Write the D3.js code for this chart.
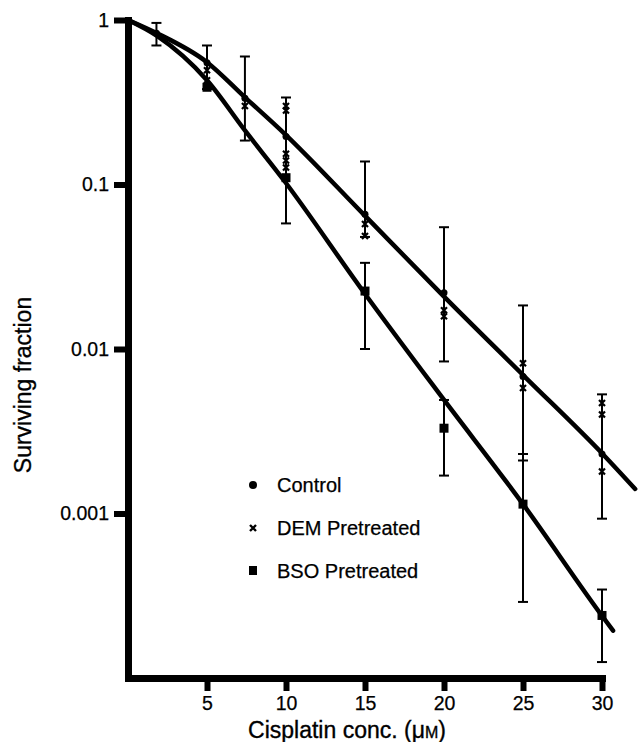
<!DOCTYPE html>
<html>
<head>
<meta charset="utf-8">
<script src="https://cdn.jsdelivr.net/npm/d3@7"></script>
<style>
body { margin: 0; background: #fff; }
text { font-family: "Liberation Sans", Arial, Helvetica, sans-serif; fill: #000; }
</style>
</head>
<body>
<div id="chart-area"></div>
<script>
// tick values / labels
var xTicks = [5, 10, 15, 20, 25, 30];
var yTicks = [1, 0.1, 0.01, 0.001];
var yTickLabels = ["1", "0.1", "0.01", "0.001"];

// Control (dots) with error bars
var controlX = [1.8, 5, 7.4, 10, 15, 20, 25, 30];
var controlY = [0.83, 0.55, 0.335, 0.196, 0.066, 0.022, 0.0068, 0.0023];
var controlLo = [0.70, 0.38, 0.185, 0.058, 0.048, 0.0084, 0.0021, 0.00093];
var controlHi = [0.96, 0.70, 0.60, 0.338, 0.138, 0.055, 0.0184, 0.0053];

// DEM pretreated (crosses)
var demX = [5, 5, 7.4, 10, 10, 10, 10, 10, 15, 15, 20, 20, 25, 25, 30, 30, 30];
var demY = [0.495, 0.43, 0.30, 0.30, 0.282, 0.154, 0.140, 0.127, 0.0575, 0.0486, 0.0172, 0.0158, 0.0082, 0.0058, 0.0047, 0.0040, 0.0018];

// BSO pretreated (squares)
var bsoX = [5, 10, 15, 20, 25, 30];
var bsoY = [0.39, 0.110, 0.0225, 0.0033, 0.00114, 0.00024];
var bsoLo = [null, null, 0.010, 0.0017, 0.00029, 0.000125];
var bsoHi = [null, null, 0.0334, 0.0049, 0.0023, 0.000345];

// fitted curves
var fitUpperX = [0, 1.84, 5, 7.4, 9.9, 14.9, 19.8, 25.1, 30.1, 32.1];
var fitUpperY = [1, 0.83, 0.554, 0.339, 0.204, 0.066, 0.0218, 0.0068, 0.00227, 0.00141];
var fitLowerX = [0, 1.84, 5, 7.4, 9.9, 14.9, 19.8, 25, 30, 30.7];
var fitLowerY = [1, 0.80, 0.43, 0.213, 0.105, 0.0223, 0.0052, 0.00114, 0.000239, 0.000194];

var legendLabels = ["Control", "DEM Pretreated", "BSO Pretreated"];

var width = 640, height = 742;

var svg = d3.select("#chart-area")
    .append("svg")
    .attr("width", width)
    .attr("height", height);

var x = d3.scaleLinear().domain([0, 30]).range([128, 602]);
var y = d3.scaleLog().domain([0.0001, 1]).range([678, 20]);

// axes
var xAxisGroup = svg.append("g")
    .attr("transform", "translate(0," + y(0.0001) + ")")
    .call(d3.axisBottom(x).tickValues(xTicks).tickSize(13).tickSizeOuter(0).tickPadding(5));

var yAxisGroup = svg.append("g")
    .attr("transform", "translate(" + x(0) + ",0)")
    .call(d3.axisLeft(y).tickValues(yTicks)
        .tickFormat(function (d, i) { return yTickLabels[i]; })
        .tickSize(14).tickSizeOuter(0).tickPadding(5));

[xAxisGroup, yAxisGroup].forEach(function (g) {
    g.attr("font-family", null).attr("font-size", null);
    g.select(".domain").attr("stroke", "#000").attr("stroke-width", 7).attr("stroke-linecap", "square");
    g.selectAll(".tick line").attr("stroke", "#000").attr("stroke-width", 6);
    g.selectAll(".tick text").attr("font-size", "19.5px")
        .attr("stroke", "#000").attr("stroke-width", 0.25);
});

// axis titles
svg.append("text")
    .attr("x", 347)
    .attr("y", 738)
    .attr("text-anchor", "middle")
    .attr("font-size", "23px")
    .attr("stroke", "#000").attr("stroke-width", 0.35)
    .text("Cisplatin conc. (μ")
    .append("tspan").attr("font-size", "16px").text("M")
    .append("tspan").attr("font-size", "23px").text(")");

svg.append("text")
    .attr("transform", "translate(31,385) rotate(-90)")
    .attr("text-anchor", "middle")
    .attr("font-size", "23px")
    .attr("stroke", "#000").attr("stroke-width", 0.3)
    .text("Surviving fraction");

// fitted lines
var line = d3.line()
    .x(function (d) { return x(d[0]); })
    .y(function (d) { return y(d[1]); })
    .curve(d3.curveMonotoneX);

[d3.zip(fitUpperX, fitUpperY), d3.zip(fitLowerX, fitLowerY)].forEach(function (pts) {
    svg.append("path")
        .attr("d", line(pts))
        .attr("fill", "none")
        .attr("stroke", "#000")
        .attr("stroke-width", 4.5)
        .attr("stroke-linecap", "round");
});

// error bars
function errorBars(xs, lo, hi) {
    var data = xs.map(function (v, i) { return { x: v, lo: lo[i], hi: hi[i] }; })
        .filter(function (d) { return d.lo != null; });
    var g = svg.append("g").attr("stroke", "#000").attr("stroke-width", 2);
    g.selectAll(".bar").data(data).enter().append("line")
        .attr("x1", function (d) { return x(d.x); })
        .attr("x2", function (d) { return x(d.x); })
        .attr("y1", function (d) { return y(d.lo); })
        .attr("y2", function (d) { return y(d.hi); });
    ["lo", "hi"].forEach(function (k) {
        g.selectAll(".cap-" + k).data(data).enter().append("line")
            .attr("x1", function (d) { return x(d.x) - 5; })
            .attr("x2", function (d) { return x(d.x) + 5; })
            .attr("y1", function (d) { return y(d[k]); })
            .attr("y2", function (d) { return y(d[k]); });
    });
}
errorBars(controlX, controlLo, controlHi);
errorBars(bsoX, bsoLo, bsoHi);

// markers
var crossPath = "M-3,-3L3,3M-3,3L3,-3";

svg.append("g").selectAll("circle")
    .data(d3.zip(controlX, controlY))
    .enter().append("circle")
    .attr("cx", function (d) { return x(d[0]); })
    .attr("cy", function (d) { return y(d[1]); })
    .attr("r", 3.5)
    .attr("fill", "#000");

svg.append("g").selectAll("path")
    .data(d3.zip(demX, demY))
    .enter().append("path")
    .attr("transform", function (d) { return "translate(" + x(d[0]) + "," + y(d[1]) + ")"; })
    .attr("d", crossPath)
    .attr("stroke", "#000")
    .attr("stroke-width", 2.2);

svg.append("g").selectAll("rect")
    .data(d3.zip(bsoX, bsoY))
    .enter().append("rect")
    .attr("x", function (d) { return x(d[0]) - 4.5; })
    .attr("y", function (d) { return y(d[1]) - 4.5; })
    .attr("width", 9)
    .attr("height", 9)
    .attr("fill", "#000");

// legend
var legend = svg.append("g").attr("transform", "translate(253,485)");
legendLabels.forEach(function (lab, i) {
    var row = legend.append("g").attr("transform", "translate(0," + (i * 43) + ")");
    if (i === 0) {
        row.append("circle").attr("r", 4).attr("fill", "#000");
    } else if (i === 1) {
        row.append("path").attr("d", crossPath).attr("stroke", "#000").attr("stroke-width", 2.4);
    } else {
        row.append("rect").attr("x", -4).attr("y", -5).attr("width", 8).attr("height", 9).attr("fill", "#000");
    }
    row.append("text")
        .attr("x", 24)
        .attr("y", 7)
        .attr("font-size", "20px")
        .attr("stroke", "#000").attr("stroke-width", 0.25)
        .text(lab);
});
</script>
</body>
</html>
